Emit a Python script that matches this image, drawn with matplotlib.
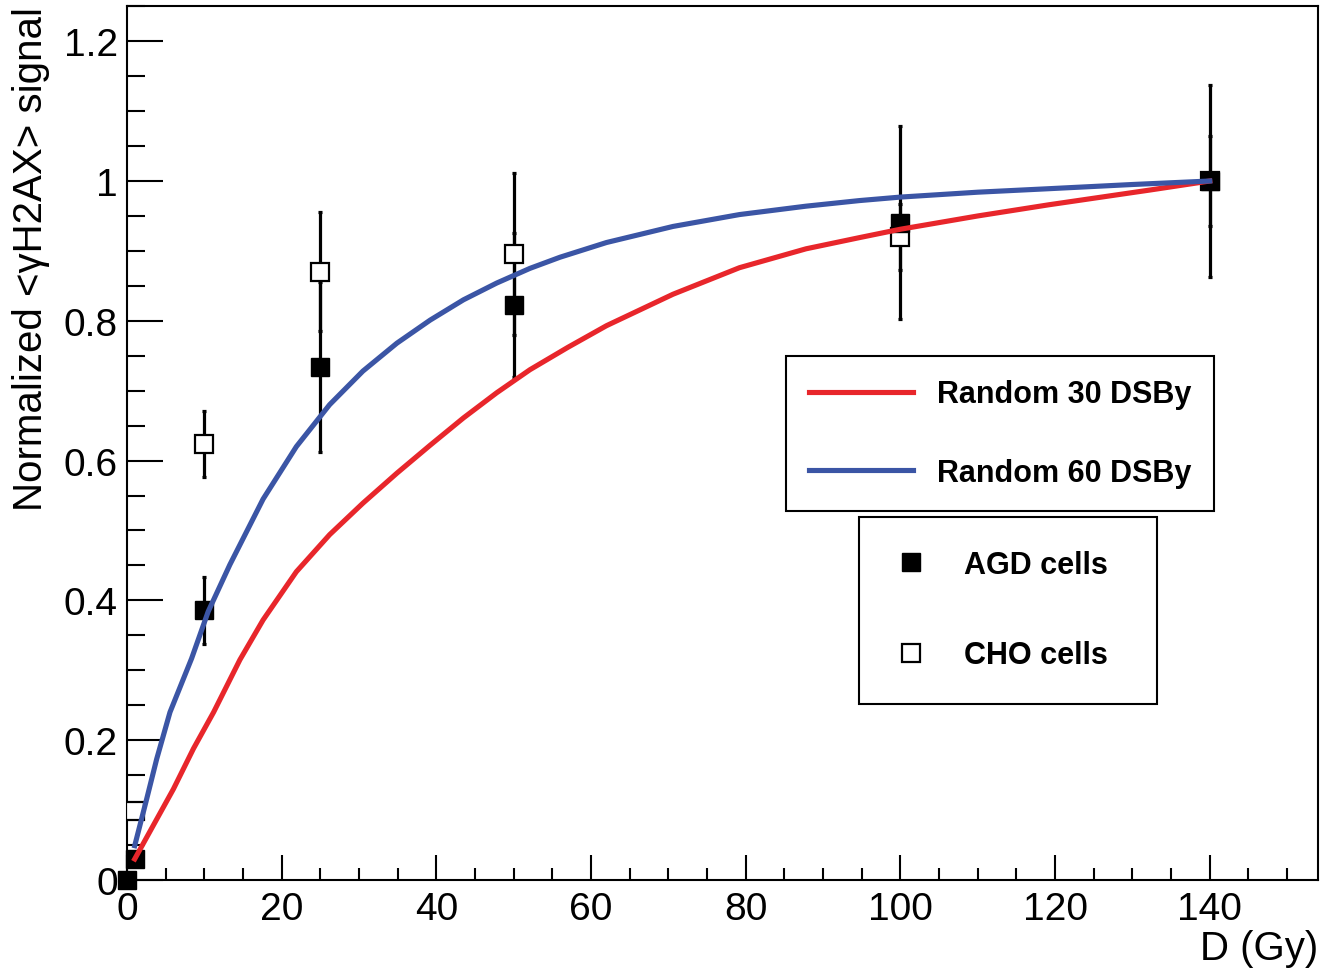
import matplotlib
matplotlib.use("Agg")
import matplotlib.pyplot as plt
from matplotlib.ticker import MultipleLocator
from matplotlib.lines import Line2D

plt.rcParams["font.family"] = ["Liberation Sans", "DejaVu Sans"]

# measured points
dose = [0, 1, 10, 25, 50, 100, 140]
agd = [0.0, 0.03, 0.386, 0.734, 0.823, 0.94, 1.0]
agd_err = [0.0, 0.0, 0.048, 0.122, 0.103, 0.138, 0.137]

cho_dose = [1, 10, 25, 50, 100, 140]
cho = [0.099, 0.624, 0.870, 0.895, 0.920, 1.0]
cho_err = [0.0, 0.047, 0.085, 0.116, 0.047, 0.065]

# simulation curves
d30 = [1, 3.4, 6.0, 8.6, 11.2, 14.6, 17.6, 21.9, 26.2, 30.5, 34.9, 39.2, 43.5,
       47.8, 52.1, 57, 62, 70.6, 79.2, 87.8, 94.7, 100, 110, 119.2, 132.2, 140]
sim30 = [0.030, 0.078, 0.130, 0.188, 0.240, 0.315, 0.372, 0.441, 0.494, 0.539,
         0.582, 0.622, 0.661, 0.697, 0.730, 0.762, 0.793, 0.838, 0.876, 0.903,
         0.919, 0.931, 0.950, 0.966, 0.987, 1.0]

d60 = [1, 2.55, 3.84, 5.56, 8.36, 10.5, 13.3, 17.6, 21.9, 26.2, 30.5, 34.9,
       39.2, 43.5, 47.8, 52.1, 56, 62, 70.6, 79.2, 87.8, 94.7, 100, 110, 119.2,
       130, 140]
sim60 = [0.049, 0.116, 0.173, 0.240, 0.317, 0.384, 0.451, 0.545, 0.620, 0.680,
         0.728, 0.768, 0.801, 0.830, 0.854, 0.875, 0.891, 0.912, 0.935, 0.952,
         0.964, 0.972, 0.977, 0.984, 0.989, 0.995, 1.0]

RED = "#e8262b"
BLUE = "#3b55a5"

fig = plt.figure(figsize=(13.2, 9.7), dpi=100)
ax = fig.add_axes([0.0962, 0.0918, 0.9023, 0.9007])

# error bars, CHO under AGD
ax.errorbar(cho_dose, cho, yerr=cho_err, fmt="none", ecolor="black",
            elinewidth=2.3, capsize=1.5, capthick=2.3, zorder=2)
ax.errorbar(dose, agd, yerr=agd_err, fmt="none", ecolor="black",
            elinewidth=2.3, capsize=1.5, capthick=2.3, zorder=2)
ax.plot(cho_dose, cho, "s", ms=13, mfc="white", mec="black", mew=1.6, zorder=3)
ax.plot(dose, agd, "s", ms=13, mfc="black", mec="black", zorder=4, clip_on=False)

l30, = ax.plot(d30, sim30, color=RED, lw=3.7, zorder=5)
l60, = ax.plot(d60, sim60, color=BLUE, lw=3.7, zorder=5)

ax.set_xlim(0, 154)
ax.set_ylim(0, 1.25)
ax.xaxis.set_major_locator(MultipleLocator(20))
ax.xaxis.set_minor_locator(MultipleLocator(5))
ax.yaxis.set_major_locator(MultipleLocator(0.2))
ax.yaxis.set_minor_locator(MultipleLocator(0.05))
ax.yaxis.set_major_formatter(plt.FuncFormatter(lambda v, p: f"{v:g}"))

ax.tick_params(axis="both", which="both", direction="in", width=1.5,
               labelsize=28, top=False, right=False)
ax.tick_params(axis="y", which="major", length=26, pad=6.5)
ax.tick_params(axis="y", which="minor", length=13)
ax.tick_params(axis="x", which="major", length=18, pad=8)
ax.tick_params(axis="x", which="minor", length=9)
for s in ax.spines.values():
    s.set_linewidth(1.5)

ax.set_ylabel("Normalized <γH2AX> signal", fontsize=29, loc="top")
ax.yaxis.set_label_coords(-0.065, 1.0)
ax.set_xlabel("D (Gy)", fontsize=29, loc="right")
ax.xaxis.set_label_coords(1.0, -0.056)

# legends
leg1 = ax.legend([l30, l60], ["Random 30 DSBy", "Random 60 DSBy"],
                 loc="upper left", bbox_to_anchor=(786 / 1320, 1 - 357 / 970, 428 / 1320, 0),
                 bbox_transform=fig.transFigure, mode="expand", borderaxespad=0,
                 prop={"weight": "bold", "size": 22}, frameon=True, fancybox=False,
                 edgecolor="black", framealpha=1, borderpad=0.76, labelspacing=1.6,
                 handlelength=3.4, handletextpad=0.78)
leg1.get_frame().set_linewidth(1.5)
ax.add_artist(leg1)

h_agd = Line2D([], [], ls="none", marker="s", ms=13, mfc="black", mec="black")
h_cho = Line2D([], [], ls="none", marker="s", ms=13, mfc="white", mec="black", mew=1.6)
leg2 = ax.legend([h_agd, h_cho], ["AGD cells", "CHO cells"],
                 loc="upper left", bbox_to_anchor=(859 / 1320, 1 - 518 / 970, 298 / 1320, 0),
                 bbox_transform=fig.transFigure, mode="expand", borderaxespad=0,
                 prop={"weight": "bold", "size": 22}, frameon=True, fancybox=False,
                 edgecolor="black", framealpha=1, borderpad=1.08, labelspacing=1.98,
                 handlelength=1.25, handletextpad=1.12)
leg2.get_frame().set_linewidth(1.5)

fig.savefig("out.png", dpi=100)
